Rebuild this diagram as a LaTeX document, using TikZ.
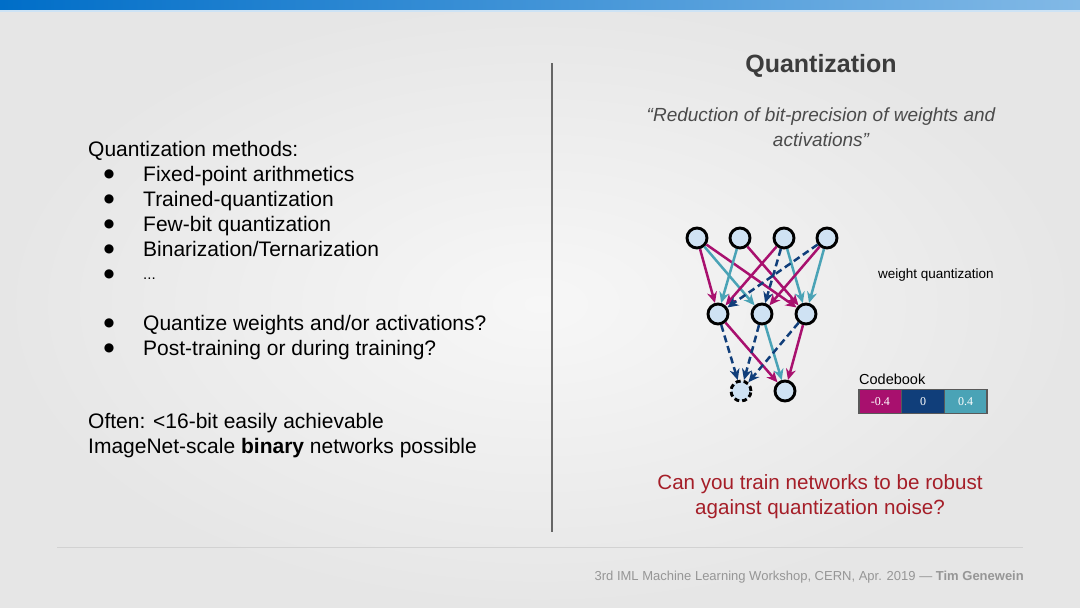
\documentclass[tikz,border=0pt]{standalone}
\usepackage{fontspec}
\setmainfont{Liberation Sans}
\newfontfamily\dvfont{DejaVu Sans}
\newfontfamily\serifcb{Liberation Serif}
\usetikzlibrary{arrows.meta}
\definecolor{magc}{RGB}{168,16,110}
\definecolor{teac}{RGB}{74,163,182}
\definecolor{dblc}{RGB}{16,62,122}
\definecolor{nfill}{RGB}{207,226,243}
\definecolor{bgin}{RGB}{247,247,247}
\definecolor{bgout}{RGB}{230,230,230}
\definecolor{qred}{RGB}{165,30,40}
\definecolor{titc}{RGB}{60,60,60}
\definecolor{quoc}{RGB}{75,75,75}
\definecolor{footc}{RGB}{150,150,150}
\definecolor{barl}{RGB}{0,110,200}
\definecolor{barr}{RGB}{130,185,230}
\begin{document}
\begin{tikzpicture}[x=1pt,y=-1pt,
  body/.style={anchor=base west,inner sep=0pt,font=\fontsize{21}{25}\selectfont},
  bul/.style={anchor=center,inner sep=0pt,font=\dvfont\fontsize{12}{12}\selectfont},
  neuron/.style={circle,draw=black,line width=2.9pt,fill=nfill,minimum size=20pt,inner sep=0pt},
  dneuron/.style={neuron,dashed,dash pattern=on 5pt off 3pt},
  wm/.style={draw=magc,line width=2.5pt,-{Stealth[length=11pt,width=10pt]}},
  wt/.style={draw=teac,line width=2.5pt,-{Stealth[length=11pt,width=10pt]}},
  wd/.style={draw=dblc,line width=2.5pt,dash pattern=on 7pt off 4pt,-{Stealth[length=11pt,width=10pt]}},
  cbcell/.style={draw=gray!70!black,line width=1.5pt,minimum width=42.7pt,minimum height=24pt,inner sep=0pt,text=white,font=\serifcb\fontsize{12}{12}\selectfont}
]
\useasboundingbox (0,0) rectangle (1080,608);
\shade[inner color=bgin,outer color=bgout] (0,0) rectangle (1080,608);
\shade[left color=barl,right color=barr] (0,0) rectangle (1080,10);
\fill[barr!40] (0,10) rectangle (1080,11.5);

% separators
\draw[gray!80!black,line width=1.2pt] (552,63) -- (552,532);
\draw[gray!35,line width=1pt] (57,547) -- (1023,547);

% left text
\node[body] (l0) at (88,156) {Quantization methods:};
\node[bul] (b1) at (109,174) {●};
\node[body] (l1) at (143,181) {Fixed-point arithmetics};
\node[bul] (b2) at (109,199) {●};
\node[body] (l2) at (143,206) {Trained-quantization};
\node[bul] (b3) at (109,224) {●};
\node[body] (l3) at (143,231) {Few-bit quantization};
\node[bul] (b4) at (109,249) {●};
\node[body] (l4) at (143,256) {Binarization/Ternarization};
\node[bul] (b5) at (109,274) {●};
\node[body,font=\fontsize{15}{25}\selectfont] (l5) at (143,279) {...};
\node[bul] (b6) at (109,323) {●};
\node[body] (l6) at (143,330) {Quantize weights and/or activations?};
\node[bul] (b7) at (109,348) {●};
\node[body] (l7) at (143,355) {Post-training or during training?};
\node[body] (l8) at (88,428) {Often: <16-bit easily achievable};
\node[body] (l9) at (88,453) {ImageNet-scale \textbf{binary} networks possible};

% right text
\node[anchor=base,inner sep=0pt,text=titc,font=\bfseries\fontsize{25}{30}\selectfont] (title) at (821,72) {Quantization};
\node[anchor=base,inner sep=0pt,text=quoc,font=\itshape\fontsize{19}{25}\selectfont,align=center] (quote) at (821,146) {“Reduction of bit-precision of weights and\\activations”};
\node[anchor=base,inner sep=0pt,text=qred,font=\fontsize{20.6}{25}\selectfont,align=center] (quest) at (820,514) {Can you train networks to be robust\\against quantization noise?};

% network
\node[neuron] (t1) at (697,238) {};
\node[neuron] (t2) at (740,238) {};
\node[neuron] (t3) at (784,238) {};
\node[neuron] (t4) at (827,238) {};
\node[neuron] (m1) at (718,314) {};
\node[neuron] (m2) at (762,314) {};
\node[neuron] (m3) at (806,314) {};
\node[dneuron] (o1) at (741,391) {};
\node[neuron] (o2) at (785,391) {};

\draw[wm] (t1) -- (m1);
\draw[wt] (t1) -- (m2);
\draw[wm] (t1) -- (m3);
\draw[wt] (t2) -- (m1);
\draw[wm] (t2) -- (m3);
\draw[wm] (t3) -- (m1);
\draw[wd] (t3) -- (m2);
\draw[wt] (t3) -- (m3);
\draw[wd] (t4) -- (m1);
\draw[wm] (t4) -- (m2);
\draw[wt] (t4) -- (m3);
\draw[wd] (m1) -- (o1);
\draw[wm] (m1) -- (o2);
\draw[wd] (m2) -- (o1);
\draw[wt] (m2) -- (o2);
\draw[wd] (m3) -- (o1);
\draw[wm] (m3) -- (o2);

\node[anchor=base west,inner sep=0pt,font=\fontsize{13.5}{16}\selectfont] (wq) at (878,278) {weight quantization};
\node[anchor=base west,inner sep=0pt,font=\fontsize{14.5}{16}\selectfont] (cbl) at (859,384) {Codebook};
\node[cbcell,fill=magc] (c1) at (880.3,401.5) {-0.4};
\node[cbcell,fill=dblc] (c2) at (923,401.5) {0};
\node[cbcell,fill=teac] (c3) at (965.7,401.5) {0.4};

% footer
\node[anchor=base east,inner sep=0pt,text=footc,font=\fontsize{13}{16}\selectfont] (foot) at (1024,580) {3rd IML Machine Learning Workshop, CERN, Apr. 2019 — \textbf{Tim Genewein}};
\end{tikzpicture}
\end{document}
